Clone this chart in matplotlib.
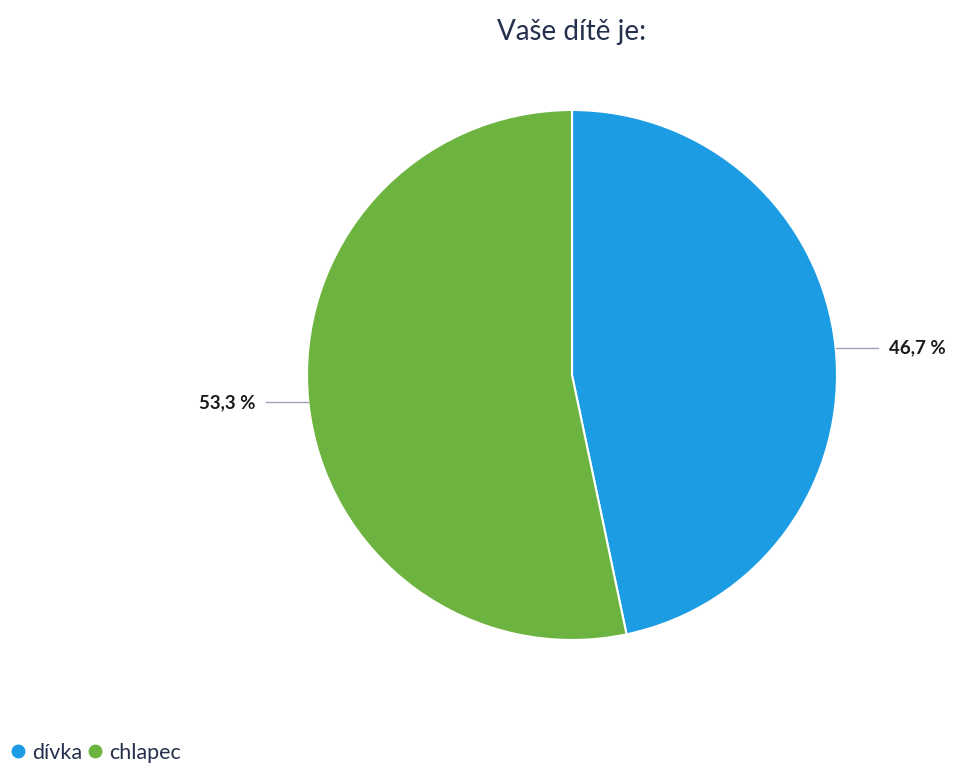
import matplotlib.pyplot as plt
import numpy as np
from matplotlib.lines import Line2D

# Survey answers: "Vaše dítě je:"
categories = ['dívka', 'chlapec']
shares = [46.7, 53.3]
colors = ['#1c9ce3', '#6db33f']

title_color = '#25304d'
text_color = '#1a1a1a'

plt.rcParams['font.family'] = ['Lato', 'DejaVu Sans']

fig = plt.figure(figsize=(9.54, 7.67), dpi=100)
ax = fig.add_axes([307 / 954, 1 - 640 / 767, 530 / 954, 530 / 767])

wedges, _ = ax.pie(shares, colors=colors, startangle=90, counterclock=False,
                   radius=1.0, wedgeprops=dict(edgecolor='white', linewidth=1.5))
ax.set_xlim(-1, 1)
ax.set_ylim(-1, 1)
ax.set_aspect('equal')
ax.axis('off')

# Percentage labels with short horizontal leader lines
for w, val in zip(wedges, shares):
    ang = np.deg2rad((w.theta1 + w.theta2) / 2)
    x, y = np.cos(ang), np.sin(ang)
    side = 1 if x >= 0 else -1
    x_end = x + side * 0.16
    ax.plot([x, x_end], [y, y], color='#a0a0b8', lw=1, clip_on=False)
    ax.text(x_end + side * 0.04, y, f'{val:.1f} %'.replace('.', ','),
            ha='left' if side > 0 else 'right', va='center',
            fontsize=13.5, fontweight='bold', color=text_color)

fig.text(572 / 954, 1 - 32 / 767, 'Vaše dítě je:', ha='center', va='center',
         fontsize=20, color=title_color)

handles = [Line2D([0], [0], marker='o', linestyle='none', markersize=9,
                  markerfacecolor=c, markeredgecolor=c) for c in colors]
fig.legend(handles, categories, loc='center left', bbox_to_anchor=(0.011, 14 / 767),
           ncol=len(categories), frameon=False, fontsize=15.5, handlelength=0.7,
           handletextpad=0.3, columnspacing=0.25, borderpad=0, borderaxespad=0,
           labelcolor=title_color)

fig.savefig('out.png', dpi=100, facecolor='white')
